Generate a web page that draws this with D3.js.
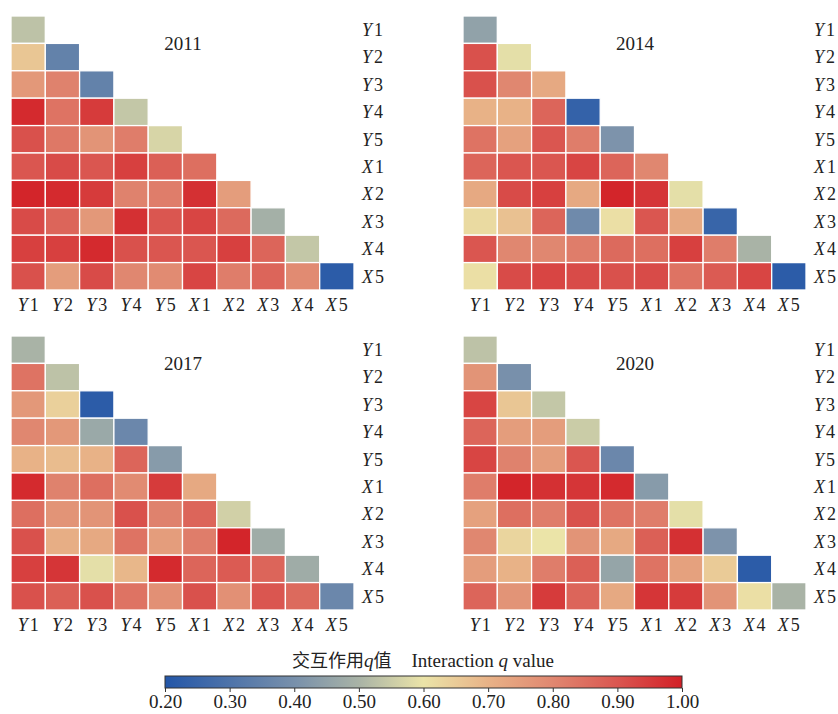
<!DOCTYPE html>
<html>
<head>
<meta charset="utf-8">
<script src="https://cdn.jsdelivr.net/npm/d3@7"></script>
<style>
  body { margin: 0; background: #fff; }
  text { font-family: "Liberation Serif", "Times New Roman", serif; fill: #222; }
</style>
</head>
<body>
<div id="chart"></div>
<script>
const variables = ["Y1", "Y2", "Y3", "Y4", "Y5", "X1", "X2", "X3", "X4", "X5"];
const colorTicks = [0.2, 0.3, 0.4, 0.5, 0.6, 0.7, 0.8, 0.9, 1.0];

// lower triangle, row by row (row i has i+1 values)
const q2011 = [
  [0.53],
  [0.66, 0.35],
  [0.76, 0.81, 0.35],
  [0.98, 0.84, 0.95, 0.54],
  [0.91, 0.83, 0.77, 0.82, 0.57],
  [0.90, 0.92, 0.90, 0.94, 0.88, 0.85],
  [0.99, 0.98, 0.95, 0.81, 0.82, 0.97, 0.75],
  [0.92, 0.87, 0.76, 0.97, 0.90, 0.93, 0.86, 0.49],
  [0.94, 0.94, 0.98, 0.91, 0.90, 0.90, 0.94, 0.87, 0.54],
  [0.91, 0.75, 0.92, 0.80, 0.79, 0.93, 0.82, 0.87, 0.79, 0.22]
];
const q2014 = [
  [0.45],
  [0.91, 0.59],
  [0.91, 0.80, 0.72],
  [0.70, 0.70, 0.87, 0.24],
  [0.84, 0.74, 0.90, 0.82, 0.41],
  [0.87, 0.90, 0.90, 0.93, 0.87, 0.80],
  [0.72, 0.92, 0.94, 0.72, 0.99, 0.96, 0.59],
  [0.62, 0.67, 0.87, 0.38, 0.61, 0.90, 0.72, 0.25],
  [0.90, 0.80, 0.80, 0.82, 0.86, 0.85, 0.94, 0.82, 0.50],
  [0.61, 0.92, 0.93, 0.92, 0.91, 0.92, 0.84, 0.89, 0.93, 0.22]
];
const q2017 = [
  [0.50],
  [0.84, 0.53],
  [0.76, 0.64, 0.22],
  [0.80, 0.76, 0.47, 0.37],
  [0.70, 0.68, 0.70, 0.87, 0.43],
  [0.98, 0.81, 0.85, 0.79, 0.95, 0.72],
  [0.85, 0.77, 0.77, 0.91, 0.81, 0.87, 0.56],
  [0.91, 0.71, 0.72, 0.84, 0.75, 0.82, 0.99, 0.48],
  [0.94, 0.96, 0.59, 0.69, 0.98, 0.87, 0.89, 0.87, 0.48],
  [0.91, 0.88, 0.91, 0.84, 0.78, 0.91, 0.78, 0.90, 0.86, 0.37]
];
const q2020 = [
  [0.53],
  [0.77, 0.40],
  [0.93, 0.66, 0.54],
  [0.87, 0.75, 0.75, 0.55],
  [0.93, 0.81, 0.75, 0.90, 0.37],
  [0.82, 0.99, 0.97, 0.96, 0.98, 0.43],
  [0.74, 0.85, 0.82, 0.91, 0.84, 0.82, 0.59],
  [0.80, 0.63, 0.60, 0.77, 0.72, 0.88, 0.97, 0.41],
  [0.75, 0.70, 0.82, 0.88, 0.46, 0.84, 0.74, 0.65, 0.22],
  [0.87, 0.77, 0.95, 0.87, 0.72, 0.96, 0.95, 0.77, 0.61, 0.50]
];

const panels = [
  { year: "2011", data: q2011, x: 11, y: 16 },
  { year: "2014", data: q2014, x: 463, y: 16 },
  { year: "2017", data: q2017, x: 11, y: 336 },
  { year: "2020", data: q2020, x: 463, y: 336 }
];

const W = 838, H = 714;
const gridW = 343, gridH = 274;

const colorScale = d3.scaleLinear()
  .domain([0.2, 0.4, 0.5, 0.6, 0.7, 0.8, 0.9, 1.0])
  .range(["#2356a8", "#7890ab", "#a9b3a6", "#ebe4a8", "#e8b287", "#e08770", "#da5650", "#d21f26"])
  .clamp(true);

const svg = d3.select("#chart").append("svg")
  .attr("width", W)
  .attr("height", H);

const xBand = d3.scaleBand().domain(variables).range([0, gridW]);
const yBand = d3.scaleBand().domain(variables).range([0, gridH]);

function varLabel(sel, name) {
  sel.append("tspan").style("font-style", "italic").text(name[0]);
  sel.append("tspan").attr("dx", 2).text(name.slice(1));
}

panels.forEach(p => {
  const g = svg.append("g").attr("transform", `translate(${p.x},${p.y})`);

  const cells = [];
  p.data.forEach((row, i) => {
    row.forEach((v, j) => cells.push({ row: variables[i], col: variables[j], value: v }));
  });

  g.selectAll("rect.cell")
    .data(cells)
    .enter()
    .append("rect")
    .attr("class", "cell")
    .attr("x", d => xBand(d.col))
    .attr("y", d => yBand(d.row))
    .attr("width", xBand.bandwidth())
    .attr("height", yBand.bandwidth())
    .attr("fill", d => colorScale(d.value))
    .attr("stroke", "#fff")
    .attr("stroke-width", 1.3);

  // year title
  g.append("text")
    .attr("x", 172)
    .attr("y", 34)
    .attr("text-anchor", "middle")
    .style("font-size", "19px")
    .text(p.year);

  // right side labels
  variables.forEach(v => {
    const t = g.append("text")
      .attr("x", gridW + 8)
      .attr("y", yBand(v) + yBand.bandwidth() / 2)
      .attr("dy", "0.35em")
      .style("font-size", "18px");
    varLabel(t, v);
  });

  // bottom labels
  variables.forEach(v => {
    const t = g.append("text")
      .attr("x", xBand(v) + xBand.bandwidth() / 2)
      .attr("y", gridH + 21)
      .attr("text-anchor", "middle")
      .style("font-size", "18px");
    varLabel(t, v);
  });
});

// colour bar
const barX0 = 165, barX1 = 682, barY = 676, barH = 12;
const legendScale = d3.scaleLinear().domain([0.2, 1.0]).range([barX0, barX1]);

const defs = svg.append("defs");
const gradient = defs.append("linearGradient")
  .attr("id", "qGradient")
  .attr("x1", "0%").attr("x2", "100%")
  .attr("y1", "0%").attr("y2", "0%");

colorScale.domain().forEach(d => {
  gradient.append("stop")
    .attr("offset", `${(d - 0.2) / 0.8 * 100}%`)
    .attr("stop-color", colorScale(d));
});

svg.append("rect")
  .attr("x", barX0)
  .attr("y", barY)
  .attr("width", barX1 - barX0)
  .attr("height", barH)
  .style("fill", "url(#qGradient)")
  .attr("stroke", "#333")
  .attr("stroke-width", 1);

const legendAxis = svg.append("g")
  .attr("transform", `translate(0,${barY + barH})`)
  .call(d3.axisBottom(legendScale)
    .tickValues(colorTicks)
    .tickSize(4)
    .tickFormat(d3.format(".2f")));

legendAxis.select(".domain").remove();
legendAxis.selectAll("line").attr("stroke", "#333");
legendAxis.selectAll("text")
  .attr("y", 20)
  .attr("dy", null)
  .style("font-family", "'Liberation Serif', serif")
  .style("font-size", "19px")
  .attr("fill", "#222");

const title = svg.append("text")
  .attr("x", 423)
  .attr("y", 667)
  .attr("text-anchor", "middle")
  .style("font-size", "19px");
title.append("tspan").style("font-family", "'Noto Sans CJK SC', sans-serif").style("font-size", "18px").text("交互作用");
title.append("tspan").style("font-style", "italic").text("q");
title.append("tspan").style("font-family", "'Noto Sans CJK SC', sans-serif").style("font-size", "18px").text("值");
title.append("tspan").attr("dx", 20).text("Interaction ");
title.append("tspan").style("font-style", "italic").text("q");
title.append("tspan").text(" value");
</script>
</body>
</html>
